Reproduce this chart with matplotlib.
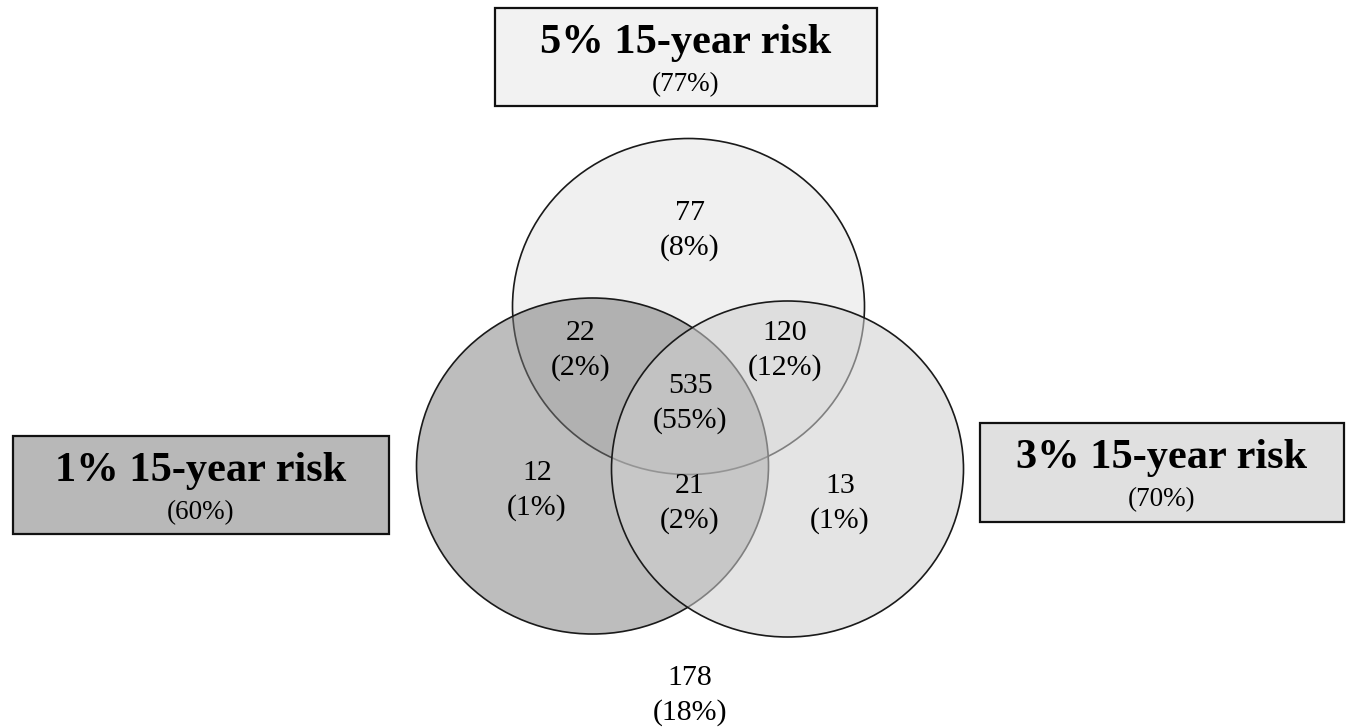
import matplotlib
matplotlib.use("Agg")
import matplotlib.pyplot as plt
from matplotlib.patches import Ellipse, Rectangle

# ---- data ----
set_titles = ["5% 15-year risk", "1% 15-year risk", "3% 15-year risk"]
set_pcts = ["(77%)", "(60%)", "(70%)"]
region_names = ["T", "TL", "TR", "TLR", "L", "LR", "R", "none"]
region_counts = [77, 22, 120, 535, 12, 21, 13, 178]
region_pcts = ["(8%)", "(2%)", "(12%)", "(55%)", "(1%)", "(2%)", "(1%)", "(18%)"]

plt.rcParams['font.family'] = ['Liberation Serif', 'DejaVu Serif']

W, H = 1356, 728
fig = plt.figure(figsize=(W / 100, H / 100), dpi=100)
ax = fig.add_axes([0, 0, 1, 1])
ax.set_xlim(0, W)
ax.set_ylim(H, 0)
ax.axis('off')

ew, eh = 352, 336
cT = (688.5, 306.5)
cL = (592.5, 466)
cR = (787.5, 469)
lw = 1.2

# top set
ax.add_patch(Ellipse(cT, ew, eh, facecolor='#f0f0f0', edgecolor='#1a1a1a', lw=lw, zorder=1))
# left set
ax.add_patch(Ellipse(cL, ew, eh, facecolor='#bdbdbd', edgecolor='none', zorder=2))
clipL = Ellipse(cL, ew, eh, transform=ax.transData)
ov = Ellipse(cT, ew, eh, facecolor='#b1b1b1', edgecolor='none', zorder=3)
ax.add_patch(ov)
ov.set_clip_path(clipL)
tedge = Ellipse(cT, ew, eh, facecolor='none', edgecolor='#4a4a4a', lw=lw, zorder=4)
ax.add_patch(tedge)
tedge.set_clip_path(clipL)
ax.add_patch(Ellipse(cL, ew, eh, facecolor='none', edgecolor='#1a1a1a', lw=lw, zorder=5))
# right set (translucent)
ax.add_patch(Ellipse(cR, ew, eh, facecolor='#d0d0d0', alpha=0.56, edgecolor='none', zorder=6))
ax.add_patch(Ellipse(cR, ew, eh, facecolor='none', edgecolor='#1a1a1a', lw=lw, zorder=7))

# region labels
region_pos = {
    "T": (690, 213), "TL": (581, 333), "TR": (785, 333), "TLR": (690, 386),
    "L": (537, 473), "LR": (690, 486), "R": (840, 486), "none": (690, 678),
}
for name, cnt, pct in zip(region_names, region_counts, region_pcts):
    x, y = region_pos[name]
    ax.text(x, y, str(cnt), ha='center', va='center', fontsize=21.5, zorder=10)
    ax.text(x, y + 35, pct, ha='center', va='center', fontsize=21.5, zorder=10)

# set label boxes
boxes = [
    (495, 8, 382, 98, '#f2f2f2'),
    (13, 436, 376, 98, '#b8b8b8'),
    (980, 423, 364, 99, '#e0e0e0'),
]
for (x0, y0, bw, bh, fc), title, pct in zip(boxes, set_titles, set_pcts):
    ax.add_patch(Rectangle((x0, y0), bw, bh, facecolor=fc, edgecolor='#111111', lw=1.6, zorder=8))
    cx = x0 + bw / 2
    ax.text(cx, y0 + 35, title, ha='center', va='center', fontsize=30.5, fontweight='bold', zorder=10)
    ax.text(cx, y0 + 77, pct, ha='center', va='center', fontsize=19.5, zorder=10)

fig.savefig("out.png", dpi=100)
